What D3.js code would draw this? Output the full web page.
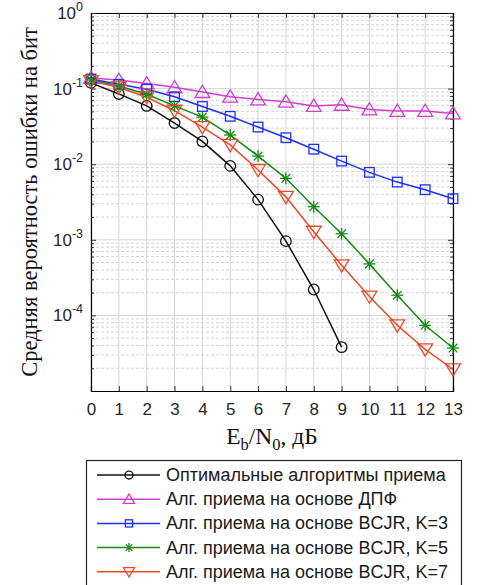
<!DOCTYPE html>
<html>
<head>
<meta charset="utf-8">
<script src="https://cdn.jsdelivr.net/npm/d3@7"></script>
<style>
  html, body { margin: 0; padding: 0; background: #fff; }
  svg { display: block; }
</style>
</head>
<body>
<svg id="chart" width="480" height="585"></svg>
<script>
// Eb/N0 grid, dB
const ebn0 = [0, 1, 2, 3, 4, 5, 6, 7, 8, 9, 10, 11, 12, 13];

// Bit error rate per receiver
const berOptimal = [0.119, 0.085, 0.059, 0.035, 0.020, 0.0095, 0.0034, 0.00096, 0.00022, 0.000038];
const berDft     = [0.138, 0.130, 0.117, 0.104, 0.090, 0.078, 0.072, 0.067, 0.059, 0.061, 0.053, 0.0506, 0.0505, 0.047];
const berBcjr3   = [0.134, 0.114, 0.098, 0.078, 0.058, 0.043, 0.031, 0.0224, 0.0158, 0.011, 0.0078, 0.0058, 0.0046, 0.0035];
const berBcjr5   = [0.130, 0.108, 0.084, 0.059, 0.042, 0.0243, 0.0128, 0.0065, 0.00274, 0.0012, 0.00048, 0.000185, 0.000074, 0.000037];
const berBcjr7   = [0.126, 0.104, 0.077, 0.051, 0.031, 0.018, 0.0084, 0.0037, 0.00128, 0.00046, 0.000178, 0.000074, 0.0000356, 0.0000194];

const seriesNames = [
  "Оптимальные алгоритмы приема",
  "Алг. приема на основе ДПФ",
  "Алг. приема на основе BCJR, K=3",
  "Алг. приема на основе BCJR, K=5",
  "Алг. приема на основе BCJR, K=7"
];
const seriesValues = [berOptimal, berDft, berBcjr3, berBcjr5, berBcjr7];
const seriesColors = ["#111111", "#d03fd0", "#1f2fff", "#138a13", "#ea4a26"];
const seriesMarkers = ["circle", "triangleUp", "square", "asterisk", "triangleDown"];

const xTicks = ebn0;
const yTickExponents = [0, -1, -2, -3, -4];

const svg = d3.select("#chart");
const L = 91, R = 453, T = 13, B = 391;

const x = d3.scaleLinear().domain([0, 13]).range([L, R]);
const y = d3.scaleLog().domain([1e-5, 1]).range([B, T]);

const grid = svg.append("g");

// minor horizontal grid (2..9 within each decade)
const minorVals = [];
for (let e = -5; e < 0; e++) for (let m = 2; m <= 9; m++) minorVals.push(m * Math.pow(10, e));
grid.selectAll(".minor").data(minorVals).join("line")
  .attr("x1", L).attr("x2", R)
  .attr("y1", d => y(d)).attr("y2", d => y(d))
  .attr("stroke", "#d4d4d4").attr("stroke-width", 1)
  .attr("stroke-dasharray", "3,2");

// major grid
grid.selectAll(".majY").data(yTickExponents.map(e => Math.pow(10, e))).join("line")
  .attr("x1", L).attr("x2", R)
  .attr("y1", d => y(d)).attr("y2", d => y(d))
  .attr("stroke", "#d6d6d6").attr("stroke-width", 1);
grid.selectAll(".majX").data(xTicks).join("line")
  .attr("x1", d => x(d)).attr("x2", d => x(d))
  .attr("y1", T).attr("y2", B)
  .attr("stroke", "#d6d6d6").attr("stroke-width", 1);

// axes with inward ticks
const tickCol = "#262626";
const axB = svg.append("g").attr("transform", `translate(0,${B})`)
  .call(d3.axisBottom(x).tickValues(xTicks).tickSize(-5).tickPadding(12).tickFormat(d3.format("d")));
svg.append("g").attr("transform", `translate(0,${T})`)
  .call(d3.axisTop(x).tickValues(xTicks).tickSize(-5).tickFormat(""));
svg.append("g").attr("transform", `translate(${L},0)`)
  .call(d3.axisLeft(y).tickValues(yTickExponents.map(e => Math.pow(10, e))).tickSize(-5).tickFormat(""));
svg.append("g").attr("transform", `translate(${R},0)`)
  .call(d3.axisRight(y).tickValues(yTickExponents.map(e => Math.pow(10, e))).tickSize(-5).tickFormat(""));
// minor y ticks both sides
svg.append("g").attr("transform", `translate(${L},0)`)
  .call(d3.axisLeft(y).tickValues(minorVals).tickSize(-3).tickFormat(""))
  .call(g => g.select(".domain").remove());
svg.append("g").attr("transform", `translate(${R},0)`)
  .call(d3.axisRight(y).tickValues(minorVals).tickSize(-3).tickFormat(""))
  .call(g => g.select(".domain").remove());

svg.selectAll(".domain").attr("stroke", "#000").attr("stroke-width", 1.2);
svg.selectAll(".tick line").attr("stroke", "#333").attr("stroke-width", 1);
axB.selectAll(".tick text")
  .attr("font-family", "Liberation Sans, Arial, sans-serif")
  .attr("font-size", 17).attr("fill", tickCol);

// y tick labels: 10^n
const yLab = svg.append("g");
yTickExponents.forEach(e => {
  const t = yLab.append("text")
    .attr("x", 83).attr("y", y(Math.pow(10, e)) + 6)
    .attr("text-anchor", "end")
    .attr("font-family", "Liberation Sans, Arial, sans-serif")
    .attr("font-size", 17).attr("fill", tickCol);
  t.append("tspan").text("10");
  t.append("tspan").attr("dy", -8).attr("font-size", 12.5).text(e === 0 ? "0" : "-" + (-e));
});

// axis titles
svg.append("text")
  .attr("transform", `translate(37,${(T + B) / 2}) rotate(-90)`)
  .attr("text-anchor", "middle")
  .attr("font-family", "Liberation Serif, Times New Roman, serif")
  .attr("font-size", 22.5).attr("fill", "#111")
  .text("Средняя вероятность ошибки на бит");

const xt = svg.append("text")
  .attr("x", (L + R) / 2).attr("y", 444)
  .attr("text-anchor", "middle")
  .attr("font-family", "Liberation Serif, Times New Roman, serif")
  .attr("font-size", 23.5).attr("fill", "#111");
xt.append("tspan").text("E");
xt.append("tspan").attr("dy", 6).attr("font-size", 16.5).text("b");
xt.append("tspan").attr("dy", -6).text("/N");
xt.append("tspan").attr("dy", 6).attr("font-size", 16.5).text("0");
xt.append("tspan").attr("dy", -6).text(", дБ");

// marker drawing
function drawMarker(g, kind, cx, cy, color, k) {
  if (kind === "circle") {
    g.append("circle").attr("cx", cx).attr("cy", cy).attr("r", 5.3 * k)
      .attr("fill", "none").attr("stroke", color).attr("stroke-width", 1.3);
  } else if (kind === "square") {
    g.append("rect").attr("x", cx - 4.8 * k).attr("y", cy - 4.8 * k)
      .attr("width", 9.6 * k).attr("height", 9.6 * k)
      .attr("fill", "none").attr("stroke", color).attr("stroke-width", 1.3);
  } else if (kind === "triangleUp" || kind === "triangleDown") {
    const sg = kind === "triangleUp" ? 1 : -1;
    const h = 6.8 * k, w = 7.4 * k;
    const pts = [[cx, cy - sg * h], [cx - w, cy + sg * h * 0.8], [cx + w, cy + sg * h * 0.8]];
    g.append("polygon").attr("points", pts.map(p => p.join(",")).join(" "))
      .attr("fill", "none").attr("stroke", color).attr("stroke-width", 1.3);
  } else if (kind === "asterisk") {
    const r = 6 * k, d = r * 0.72;
    const segs = [[0, -r, 0, r], [-r, 0, r, 0], [-d, -d, d, d], [-d, d, d, -d]];
    segs.forEach(sv => g.append("line")
      .attr("x1", cx + sv[0]).attr("y1", cy + sv[1]).attr("x2", cx + sv[2]).attr("y2", cy + sv[3])
      .attr("stroke", color).attr("stroke-width", 1.3));
  }
}

// data lines + markers
const line = d3.line().x((d, i) => x(ebn0[i])).y(d => y(d));
const plot = svg.append("g");
seriesValues.forEach((vals, si) => {
  plot.append("path").datum(vals).attr("d", line)
    .attr("fill", "none").attr("stroke", seriesColors[si]).attr("stroke-width", 1.5);
});
seriesValues.forEach((vals, si) => {
  const g = plot.append("g");
  vals.forEach((v, i) => drawMarker(g, seriesMarkers[si], x(ebn0[i]), y(v), seriesColors[si], 1));
});

// legend
const lg = svg.append("g");
lg.append("rect").attr("x", 86.5).attr("y", 460.5).attr("width", 375).attr("height", 140)
  .attr("fill", "#fff").attr("stroke", "#222").attr("stroke-width", 1.2);
seriesNames.forEach((name, i) => {
  const yy = 475 + i * 24.2;
  lg.append("line").attr("x1", 97).attr("x2", 160).attr("y1", yy).attr("y2", yy)
    .attr("stroke", seriesColors[i]).attr("stroke-width", 1.5);
  drawMarker(lg, seriesMarkers[i], 129, yy, seriesColors[i], 0.75);
  lg.append("text").attr("x", 166).attr("y", yy + 6)
    .attr("font-family", "Liberation Sans, Arial, sans-serif")
    .attr("font-size", 18).attr("fill", "#1a1a1a").text(name);
});
</script>
</body>
</html>
